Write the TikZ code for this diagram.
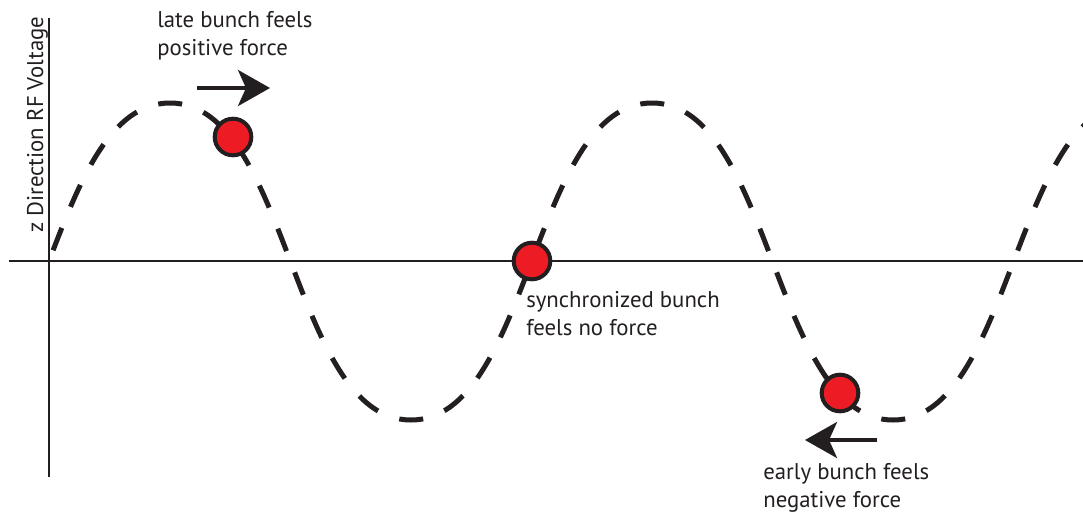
\documentclass[tikz,border=0pt]{standalone}
\usepackage{fontspec}
\setmainfont{PT Sans}
\usepackage{xcolor}
\usetikzlibrary{arrows.meta, positioning}
\definecolor{C_INK}{HTML}{231F20}
\definecolor{C_BUNCH}{HTML}{ED1C24}

\begin{document}
\begin{tikzpicture}[
  x=0.025cm, y=-0.025cm,
  every node/.style={font=\fontsize{16.2}{19.9}\selectfont, text=C_INK},
  lbl/.style={align=left, anchor=base west, inner sep=0pt},
  bunch/.style={circle, draw=C_INK, fill=C_BUNCH, line width=0.1cm,
                minimum size=0.915cm, inner sep=0pt},
  axis/.style={draw=C_INK, line width=0.04cm},
  wave/.style={draw=C_INK, line width=0.125cm,
               dash pattern=on 0.6cm off 0.57cm, dash phase=0.883cm},
  arrow/.style={-{Stealth[length=0.8cm, width=0.9cm, inset=0.2cm]},
                line width=0.1cm, draw=C_INK},
]
\useasboundingbox (0,0) rectangle (1083,521);
\clip (0,0) rectangle (1083,521);

%% axes
\coordinate (xStart) at (9,261);
\coordinate (xEnd)   at (1083,261);
\coordinate (yTop)   at (49,18);
\coordinate (yBot)   at (49,477);
\draw[axis] (xStart) -- (xEnd);
\draw[axis] (yBot) -- (yTop);

%% rf wave
\draw[wave] (49,261) .. controls (79.25,181.75) and (110,103) .. (170,103)
  .. controls (290,103) and (291,420) .. (411,420)
  .. controls (531,420) and (532,103) .. (652,103)
  .. controls (772,103) and (773,420) .. (893,420)
  .. controls (1013,420) and (1014,103) .. (1134,103);

%% bunches
\node[bunch] (bLate)  at (233,137) {};
\node[bunch] (bSync)  at (532,261) {};
\node[bunch] (bEarly) at (840,393) {};

%% force arrows
\coordinate (lateTail)  at (197,88);
\coordinate (lateTip)   at (270,88);
\coordinate (earlyTail) at (877,440);
\coordinate (earlyTip)  at (805,440);
\draw[arrow] (lateTail) -- (lateTip);
\draw[arrow] (earlyTail) -- (earlyTip);

%% labels (anchored on the last line)
\node[lbl] (lateTxt)  at (157,55)  {late bunch feels\\positive force};
\node[lbl] (syncTxt)  at (526,335) {synchronized bunch\\feels no force};
\node[lbl] (earlyTxt) at (763,507) {early bunch feels\\negative force};
\node[lbl, rotate=90] (yTxt) at (43,233) {z Direction RF Voltage};

\end{tikzpicture}
\end{document}
